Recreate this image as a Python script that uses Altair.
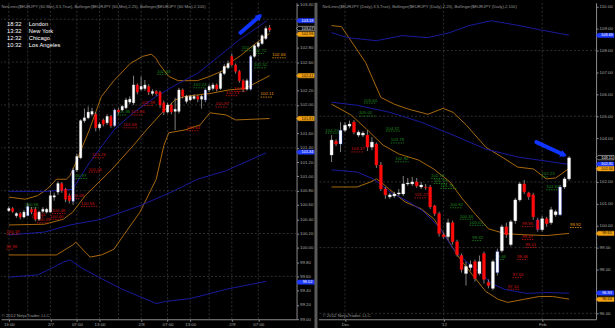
import altair as alt
import pandas as pd

FONT = "Liberation Sans"
ORANGE = "#a8690c"
BLUE = "#1a1a9e"
GREEN = "#1f8a1f"
RED = "#cc1414"
LORANGE = "#e89a10"
GRID = "#3c3c3c"
AXISC = "#8c8c8c"
TXT = "#a8a8a8"
ARROW = "#1034ff"

# ------------------------------------------------------------------ LEFT: EURJPY 60 Min
# bar time = hours counted from 2/7 00:00
L_hour = list(range(-11, 59))
L_open = [100.52, 100.55, 100.45, 100.48, 100.43, 100.45, 100.54, 100.54, 100.40, 100.51,
          100.50, 100.50, 100.71, 100.78, 100.90, 100.82, 100.73, 100.65, 101.09, 101.26,
          101.78, 101.82, 101.87, 101.87, 101.68, 101.79, 101.75, 101.84, 101.71, 101.93,
          101.93, 101.96, 102.04, 102.03, 102.28, 102.22, 102.23, 102.26, 102.16, 102.19,
          102.18, 102.03, 101.90, 102.00, 101.91, 101.91, 102.21, 102.05, 102.07, 102.09,
          102.12, 102.08, 102.07, 102.21, 102.23, 102.28, 102.23, 102.44, 102.52, 102.68,
          102.56, 102.47, 102.34, 102.22, 102.22, 102.68, 102.82, 102.86, 102.93, 103.08]
L_close = [100.55, 100.51, 100.48, 100.43, 100.50, 100.58, 100.50, 100.40, 100.50, 100.54,
           100.54, 100.73, 100.73, 100.90, 100.80, 100.68, 100.66, 101.09, 101.28, 101.78,
           101.82, 101.90, 101.91, 101.68, 101.73, 101.73, 101.84, 101.71, 101.93, 101.90,
           101.98, 102.07, 102.08, 102.28, 102.18, 102.26, 102.28, 102.18, 102.19, 102.16,
           102.00, 101.90, 102.00, 101.90, 101.94, 102.21, 102.12, 102.12, 102.12, 102.12,
           102.08, 102.12, 102.21, 102.26, 102.28, 102.22, 102.44, 102.54, 102.58, 102.56,
           102.47, 102.34, 102.22, 102.34, 102.68, 102.83, 102.87, 102.97, 103.07, 103.05]
L_high = [100.58, 100.57, 100.50, 100.50, 100.53, 100.62, 100.57, 100.57, 100.52, 100.57,
          100.56, 100.80, 100.77, 100.93, 100.92, 100.84, 100.76, 101.12, 101.32, 101.80,
          101.95, 101.98, 101.96, 101.90, 101.76, 101.81, 101.87, 101.86, 101.95, 101.96,
          102.00, 102.10, 102.12, 102.41, 102.30, 102.40, 102.35, 102.29, 102.22, 102.21,
          102.20, 102.06, 102.03, 102.03, 102.10, 102.24, 102.23, 102.14, 102.14, 102.15,
          102.14, 102.14, 102.23, 102.29, 102.31, 102.30, 102.47, 102.57, 102.62, 102.72,
          102.58, 102.49, 102.36, 102.37, 102.70, 102.85, 102.89, 102.99, 103.10, 103.12]
L_low = [100.50, 100.49, 100.42, 100.40, 100.41, 100.44, 100.47, 100.37, 100.38, 100.49,
         100.48, 100.49, 100.66, 100.74, 100.77, 100.64, 100.62, 100.60, 101.06, 101.24,
         101.75, 101.80, 101.84, 101.63, 101.65, 101.70, 101.72, 101.68, 101.69, 101.87,
         101.91, 101.94, 102.01, 102.00, 102.15, 102.20, 102.20, 102.14, 102.13, 102.13,
         101.96, 101.86, 101.88, 101.87, 101.65, 101.88, 102.09, 102.02, 102.05, 102.07,
         102.04, 101.95, 102.04, 102.18, 102.20, 102.19, 102.21, 102.42, 102.50, 102.54,
         102.44, 102.31, 102.18, 102.20, 102.20, 102.66, 102.80, 102.84, 102.91, 103.02]
L_blue = [6, 18, 29, 53, 65]

L_bb25_up_h = [-11, -6.7, -3.4, -0.9, 1.6, 4.2, 5.2, 6.7, 10.3, 13.5, 16.8, 21.1, 24.4, 26.7,
               28.0, 28.7, 31.3, 33.8, 38.9, 42.2, 45.7, 47.2, 50.3, 53.3, 55.3, 58]
L_bb25_up_p = [100.71, 100.68, 100.73, 100.82, 100.96, 100.96, 101.01, 101.19, 101.65, 102.12,
               102.34, 102.58, 102.68, 102.71, 102.65, 102.58, 102.40, 102.34, 102.34, 102.40,
               102.48, 102.58, 102.69, 102.82, 102.90, 103.00]
L_bb25_mid_h = [-11, -1.6, 3.4, 5.9, 9.2, 16.1, 21.9, 25.4, 29.5, 33.0, 35.6, 42.2, 47.2, 51.5, 58]
L_bb25_mid_p = [100.32, 100.33, 100.40, 100.50, 100.73, 101.09, 101.43, 101.65, 101.89, 102.07,
                102.12, 102.16, 102.21, 102.23, 102.41]
L_bb25_lo_h = [-11, 1.6, 5.9, 6.7, 10.5, 13.5, 16.8, 19.4, 23.7, 28.0, 30.0, 31.3, 35.6, 39.6,
               42.2, 46.5, 49.0, 58]
L_bb25_lo_p = [99.90, 99.90, 100.04, 100.08, 99.87, 99.90, 99.98, 100.18, 100.50, 100.96, 101.43,
               101.61, 101.65, 101.72, 101.89, 101.86, 101.79, 101.81]
L_bb100_up_h = [-11, -0.9, 5.9, 10.3, 16.8, 21.9, 28.0, 33.8, 38.9, 42.2, 49.7, 57.3]
L_bb100_up_p = [100.79, 100.79, 100.82, 101.19, 101.65, 101.89, 102.12, 102.30, 102.44, 102.58,
                102.90, 103.18]
L_bb100_mid_h = [-11, -1.6, 5.2, 13.5, 23.7, 32.0, 38.9, 46.5, 57.1]
L_bb100_mid_p = [100.18, 100.22, 100.32, 100.40, 100.59, 100.78, 100.96, 101.08, 101.33]
L_bb100_lo_h = [-11, -3.4, 0.1, 3.4, 5.2, 8.5, 13.5, 18.6, 28.0, 30.5, 37.1, 46.5, 52.3, 57.1]
L_bb100_lo_p = [99.59, 99.62, 99.71, 99.80, 99.83, 99.71, 99.57, 99.43, 99.22, 99.25, 99.29,
                99.42, 99.48, 99.53]

L_lab_h1 = [-6.7, -4.9, -3.6, 0.4, -0.1, 6.0, 5.3, 8.1, 11.1, 10.1, 17.6, 21.4, 19.3, 24.1, 36.1,
            28.2, 37.8, 43.7, 48.6, 46.4, 50.6, 53.6, 53.9, 58.7, 55.6, -11.7, -11.7]
L_lab_h2 = [-3.1, -1.6, -0.3, 4.0, 3.0, 9.6, 7.6, 12.4, 14.4, 13.2, 20.3, 24.4, 23.1, 27.4, 39.4,
            31.2, 41.2, 47.0, 51.6, 49.5, 53.4, 56.4, 57.2, 62.3, 58.9, -8.2, -9.7]
L_lab_v = [100.56, 100.43, 100.35, 100.48, 100.40, 100.97, 100.69, 100.58, 101.26, 101.06,
           101.86, 101.86, 101.68, 101.99, 101.64, 102.43, 102.24, 101.97, 102.19, 102.13,
           102.76, 102.72, 102.52, 102.66, 102.11, 100.19, 99.98]
L_lab_c = ['g', 'r', 'r', 'r', 'r', 'g', 'r', 'r', 'r', 'r', 'g', 'r', 'r', 'r', 'r', 'g', 'g',
           'r', 'r', 'r', 'g', 'g', 'g', 'o', 'o', 'r', 'r']

L_flag_v = [103.18, 103.07, 102.99, 102.41, 101.81, 101.34, 99.52]
L_flag_k = ['blue', 'last', 'orange', 'orange', 'orange', 'blue', 'blue']
L_arrow_h = [50.3, 55.3]
L_arrow_p = [103.01, 103.24]

L_xtick = [-11, 0, 7, 13, 24, 31, 37, 48, 55]
L_xlab = ['13:00', '2/7', '07:00', '13:00', '2/8', '07:00', '13:00', '2/9', '07:00']
L_xgrid = [-11, -6, 0, 7, 13, 18, 24, 31, 37, 42, 48, 55]
# price ticks whose labels are visible (those under the price flags are hidden in the reference)
L_ytick = [99.0, 99.2, 99.4, 99.6, 99.8, 100.0, 100.2, 100.4, 100.6, 100.8, 101.0, 101.2,
           101.4, 101.6, 102.0, 102.2, 102.6, 102.8, 103.4]
L_ygrid = [99.6, 100.2, 100.8, 101.4, 102.0, 102.6, 103.2]

# ------------------------------------------------------------------ RIGHT: EURJPY Daily
# bar index = trading days from 28 Nov 2011
R_idx = list(range(54))
R_open = [103.23, 103.86, 103.73, 104.36, 104.55, 104.73, 104.14, 104.14, 104.14, 103.59,
          103.73, 102.77, 101.68, 101.32, 101.36, 101.45, 101.45, 101.91, 101.91, 102.00,
          101.77, 101.77, 101.77, 100.91, 100.55, 99.59, 99.50, 100.14, 99.27, 98.64,
          97.82, 98.09, 98.36, 97.82, 98.73, 97.41, 97.14, 97.86, 98.86, 99.95,
          99.14, 100.23, 101.18, 101.91, 101.50, 101.41, 100.27, 99.82, 100.32, 100.14,
          100.50, 100.50, 101.77, 102.14]
R_close = [103.91, 103.73, 104.36, 104.59, 104.64, 104.27, 104.27, 104.23, 103.59, 103.82,
           102.77, 101.68, 101.41, 101.41, 101.45, 101.50, 101.91, 101.95, 102.00, 101.82,
           101.86, 101.75, 100.86, 100.55, 99.64, 99.50, 100.14, 99.27, 98.68, 98.00,
           98.14, 98.23, 97.59, 98.36, 97.55, 97.27, 98.36, 98.82, 99.95, 99.59,
           100.18, 101.18, 101.91, 101.55, 101.32, 100.41, 99.82, 100.32, 100.09, 100.73,
           100.64, 101.77, 102.14, 103.10]
R_high = [104.14, 103.95, 104.73, 104.73, 104.80, 104.82, 104.36, 104.32, 104.36, 104.05,
          103.80, 102.91, 101.77, 101.50, 101.55, 101.68, 102.27, 102.18, 102.23, 102.18,
          102.00, 101.91, 101.86, 100.95, 100.64, 99.68, 100.32, 100.23, 99.36, 98.73,
          98.36, 98.41, 98.45, 98.64, 98.82, 97.55, 98.45, 98.95, 100.05, 100.14,
          100.27, 101.27, 102.00, 102.09, 101.55, 101.50, 100.36, 100.45, 100.41, 100.86,
          100.73, 101.86, 102.23, 103.18]
R_low = [102.91, 103.64, 103.36, 104.27, 104.45, 104.18, 104.05, 104.05, 103.41, 103.45,
         102.64, 101.59, 101.23, 101.23, 101.27, 101.36, 101.36, 101.82, 101.82, 101.73,
         101.68, 101.64, 100.77, 100.45, 99.50, 99.41, 99.36, 99.14, 98.59, 97.86,
         97.27, 97.95, 97.45, 97.73, 97.36, 97.14, 97.05, 97.73, 98.77, 99.45,
         99.05, 100.09, 101.09, 101.45, 101.18, 100.27, 99.73, 99.73, 99.95, 100.05,
         100.41, 100.45, 101.68, 102.05]
R_blue = [3, 38, 47, 52]

R_bb25_up_i = [0, 2.2, 7.6, 11.0, 14.0, 17.2, 21.5, 24.9, 27.1, 30.1, 34.4, 38.7, 41.5, 45.1, 47.9, 50.0, 53]
R_bb25_up_p = [109.14, 109.09, 107.45, 105.86, 105.55, 105.32, 105.09, 105.36, 105.18, 104.59,
               103.59, 103.05, 102.68, 102.59, 102.14, 102.18, 102.62]
R_bb25_mid_i = [0, 4.4, 7.8, 11.5, 15.1, 19.4, 22.8, 26.4, 29.2, 32.2, 35.0, 38.7, 42.9, 47.9, 53]
R_bb25_mid_p = [105.55, 105.05, 104.41, 103.68, 103.27, 103.00, 102.59, 102.00, 101.23, 100.50,
                99.86, 99.64, 99.59, 99.55, 99.65]
R_bb25_lo_i = [0, 5.7, 8.7, 10.0, 11.0, 13.0, 16.4, 20.0, 22.8, 25.8, 28.6, 31.4, 34.4, 37.2,
               39.3, 42.9, 46.4, 49.3, 53]
R_bb25_lo_p = [101.77, 101.77, 102.00, 102.14, 102.00, 101.64, 101.09, 100.77, 100.32, 99.41,
               98.50, 97.77, 97.00, 96.64, 96.50, 96.64, 96.77, 96.77, 96.65]
R_bb100_up_i = [0, 3.5, 10.0, 15.7, 21.5, 26.4, 30.7, 35.6, 40.8, 46.4, 53]
R_bb100_up_p = [108.82, 108.59, 108.45, 108.68, 108.59, 108.82, 109.14, 109.36, 109.18, 108.95, 108.70]
R_bb100_mid_i = [0, 5.7, 13.0, 20.0, 27.1, 34.4, 41.5, 47.9, 53]
R_bb100_mid_p = [105.64, 105.50, 105.18, 104.73, 104.14, 103.50, 103.14, 102.95, 102.80]
R_bb100_lo_i = [0, 5.7, 9.3, 13.0, 17.2, 20.6, 24.3, 27.1, 30.1, 32.9, 35.7, 38.7, 43.6, 47.9, 53]
R_bb100_lo_p = [102.55, 102.45, 102.14, 101.55, 101.09, 100.64, 99.86, 98.95, 98.36, 97.91,
                97.36, 97.09, 96.91, 96.95, 96.92]

R_lab_i1 = [7.2, 6.1, 12.1, 13.2, -1.4, 4.4, 14.2, 22.2, 22.8, 24.3, 18.5, 26.4, 28.6, 30.8, 31.4,
            36.5, 41.4, 42.5, 42.5, 43.2, 40.4, 39.3, 46.8, 47.9, 53.2]
R_lab_i2 = [10.0, 10.0, 15.3, 16.2, 2.2, 7.2, 17.2, 25.0, 25.8, 27.9, 21.1, 29.0, 31.6, 34.4, 33.5,
            38.7, 43.5, 45.1, 45.1, 45.8, 42.5, 41.9, 48.5, 50.4, 55.8]
R_lab_v = [105.60, 105.01, 104.32, 103.78, 104.23, 103.37, 102.92, 102.16, 101.93, 101.70,
           101.27, 100.82, 100.30, 100.02, 99.32, 98.46, 98.46, 99.96, 99.37, 99.01, 97.64,
           97.10, 102.23, 101.64, 99.92]
R_lab_c = ['g', 'g', 'g', 'g', 'g', 'r', 'g', 'g', 'g', 'g', 'r', 'g', 'g', 'g', 'g', 'g', 'r',
           'r', 'r', 'r', 'r', 'r', 'g', 'g', 'o']

R_flag_v = [108.69, 103.11, 102.81, 102.60, 99.65, 96.93, 96.64]
R_flag_k = ['blue', 'last', 'blue', 'orange', 'orange', 'blue', 'orange']
R_arrow_i = [45.7, 51.8]
R_arrow_p = [103.82, 103.24]

R_xtick = [3, 25, 47]
R_xlab = ['Dec', "'12", 'Feb']
R_xgrid = [3, 25, 47]
R_ytick = [96, 98, 99, 100, 101, 102, 104, 105, 106, 107, 108, 109, 110]
R_ygrid = [96, 99, 102, 105, 108]

CITY_TIMES = ['18:32', '13:32', '12:32', '10:32']
CITIES = ['London', 'New York', 'Chicago', 'Los Angeles']
L_TITLE = "NetLines($EURJPY (60 Min),3,5,True), Bollinger($EURJPY (60 Min),2,25), Bollinger($EURJPY (60 Min),2,100)"
R_TITLE = "NetLines($EURJPY (Daily),3,5,True), Bollinger($EURJPY (Daily),2,25), Bollinger($EURJPY (Daily),2,100)"
COPY = "\u00a9 2012 NinjaTrader, LLC"

W1, W2, H = 297, 279, 318
FLAG_PATH = "M-5,0L-4,-1.1L4,-1.1L4,1.1L-4,1.1Z"


def label_expr(vals, texts):
    e = '""'
    for v, t in zip(reversed(vals), reversed(texts)):
        e = f'datum.value == {v} ? "{t}" : ({e})'
    return e


def kinds(o, c, blue):
    out = []
    for k, (a, b) in enumerate(zip(o, c), start=1):
        base = 'up' if b >= a else 'down'
        out.append(base + ('b' if k in blue else ''))
    return out


def band_df(items):
    rows = []
    for name, xs, ys in items:
        for x, y in zip(xs, ys):
            rows.append({'band': name, 'x': x, 'y': y})
    return pd.DataFrame(rows)


def panel(W, xdom, ydom, xs, o, c, hi, lo, blue, bw, obands, bbands, lab, flags, arrow, angle,
          xtick, xlab, xgrid, ytick, ygrid, yfmt, ext, flush, title, title_x, left=False):
    xaxis = alt.Axis(values=xtick, labelExpr=label_expr(xtick, xlab), grid=False, tickSize=2,
                     tickColor=AXISC, domainColor=AXISC, labelColor=TXT, labelFont=FONT,
                     labelFontSize=4.4, labelPadding=1, labelFlush=flush, title=None,
                     minExtent=10, maxExtent=10, labelOverlap=False)
    yaxis = alt.Axis(orient='right', values=ytick, format=yfmt, grid=False, tickSize=2,
                     tickColor=AXISC, domainColor=AXISC, labelColor=TXT, labelFont=FONT,
                     labelFontSize=4.4, labelPadding=1, title=None, minExtent=ext, maxExtent=ext,
                     labelOverlap=False)

    def X(f):
        return alt.X(f, type='quantitative', scale=alt.Scale(domain=xdom, nice=False, zero=False), axis=xaxis)

    def Y(f):
        return alt.Y(f, type='quantitative', scale=alt.Scale(domain=ydom, nice=False, zero=False), axis=yaxis)

    vgrid = alt.Chart(pd.DataFrame({'x': xgrid})).mark_rule(
        color=GRID, strokeDash=[2, 2], strokeWidth=0.8).encode(x=X('x'))
    hgrid = alt.Chart(pd.DataFrame({'y': ygrid})).mark_rule(
        color=GRID, strokeDash=[2, 2], strokeWidth=0.8).encode(y=Y('y'))

    ob = alt.Chart(band_df(obands)).mark_line(color=ORANGE, strokeWidth=1).encode(
        x=X('x'), y=Y('y'), detail='band:N')
    bb = alt.Chart(band_df(bbands)).mark_line(color=BLUE, strokeWidth=1).encode(
        x=X('x'), y=Y('y'), detail='band:N')

    x1, x2, v, col = lab
    ldf = pd.DataFrame({'x1': x1, 'x2': x2, 'v': v, 'cat': col,
                        't': [f"{a:.2f}" for a in v]})
    lcol = alt.Color('cat:N', scale=alt.Scale(domain=['g', 'r', 'o'], range=[GREEN, RED, LORANGE]), legend=None)
    under = alt.Chart(ldf).mark_rule(strokeDash=[1.5, 1], strokeWidth=0.8).encode(
        x=X('x1'), x2='x2', y=Y('v'), color=lcol)
    ltext = alt.Chart(ldf).mark_text(align='left', baseline='bottom', dy=-0.6, fontSize=4.4,
                                     font=FONT).encode(x=X('x1'), y=Y('v'), text='t:N', color=lcol)

    cdf = pd.DataFrame({'x': xs, 'o': o, 'c': c, 'hi': hi, 'lo': lo, 'kind': kinds(o, c, blue)})
    kd = ['up', 'down', 'upb', 'downb']
    wick = alt.Chart(cdf).mark_rule(color='#a0a0a0', strokeWidth=0.8).encode(
        x=X('x'), y=Y('lo'), y2='hi')
    body = alt.Chart(cdf).mark_bar(width=bw).encode(
        x=X('x'), y=Y('o'), y2='c',
        fill=alt.Fill('kind:N', scale=alt.Scale(domain=kd, range=['#ffffff', '#ff0a0a', '#ffffff', '#ff0a0a']), legend=None),
        stroke=alt.Stroke('kind:N', scale=alt.Scale(domain=kd, range=['#e8e8e8', '#ff0a0a', '#2a4bff', '#2a4bff']), legend=None),
        strokeWidth=alt.StrokeWidth('kind:N', scale=alt.Scale(domain=kd, range=[0.3, 0.3, 1.1, 1.1]), legend=None))

    ax, ay = arrow
    adf = pd.DataFrame({'x': ax, 'y': ay})
    shaft = alt.Chart(adf).mark_line(color=ARROW, strokeWidth=4, strokeCap='round').encode(x=X('x'), y=Y('y'))
    head = alt.Chart(adf.tail(1)).mark_point(shape='triangle-up', size=55, filled=True, opacity=1,
                                             color=ARROW, angle=angle).encode(x=X('x'), y=Y('y'))

    fv, fk = flags
    fdf = pd.DataFrame({'v': fv, 'kind': fk, 't': [f"{a:.2f}" for a in fv]})
    fd = ['blue', 'orange', 'last']
    fbox = alt.Chart(fdf).mark_point(shape=FLAG_PATH, size=16, filled=True, opacity=1, strokeWidth=0.5).encode(
        x=alt.value(W + 10), y=Y('v'),
        fill=alt.Fill('kind:N', scale=alt.Scale(domain=fd, range=['#1f3bff', '#f0a010', '#000000']), legend=None),
        stroke=alt.Stroke('kind:N', scale=alt.Scale(domain=fd, range=['#1f3bff', '#f0a010', '#ffffff']), legend=None))
    ftxt = alt.Chart(fdf).mark_text(fontSize=3.9, font=FONT, align='center', baseline='middle').encode(
        x=alt.value(W + 11), y=Y('v'), text='t:N',
        color=alt.Color('kind:N', scale=alt.Scale(domain=fd, range=['#ffffff', '#201000', '#ffffff']), legend=None))

    one = pd.DataFrame({'a': [0]})
    ttl = alt.Chart(one).mark_text(text=title, align='left', baseline='middle', fontSize=4.2,
                                   font=FONT, color='#9a9a9a').encode(x=alt.value(title_x), y=alt.value(4.5))
    cpy = alt.Chart(one).mark_text(text=COPY, align='left', baseline='middle', fontSize=4.4,
                                   font=FONT, color='#9a9a9a').encode(x=alt.value(title_x), y=alt.value(315))

    layers = [vgrid, hgrid, ob, bb, under, ltext, wick, body, shaft, head, fbox, ftxt, ttl, cpy]
    if left:
        leg_t = alt.Chart(one).mark_text(text="\n".join(CITY_TIMES), lineBreak="\n", lineHeight=7,
                                         align='left', baseline='top', fontSize=5.8, font=FONT,
                                         color='#ffffff').encode(x=alt.value(6), y=alt.value(18))
        leg_c = alt.Chart(one).mark_text(text="\n".join(CITIES), lineBreak="\n", lineHeight=7,
                                         align='left', baseline='top', fontSize=5.8, font=FONT,
                                         color='#ffffff').encode(x=alt.value(28), y=alt.value(18))
        sep = alt.Chart(one).mark_rule(color='#5a5a5a', strokeWidth=3).encode(
            x=alt.value(W + 19.5), y=alt.value(0), y2=alt.value(H + 10))
        layers += [leg_t, leg_c, sep]

    return alt.layer(*layers).properties(width=W, height=H).resolve_scale(
        color='independent', fill='independent', stroke='independent', strokeWidth='independent')


left = panel(W1, [-11.76, 63.81], [99.0, 103.43], L_hour, L_open, L_close, L_high, L_low, L_blue, 2.4,
             [('u', L_bb25_up_h, L_bb25_up_p), ('m', L_bb25_mid_h, L_bb25_mid_p), ('l', L_bb25_lo_h, L_bb25_lo_p)],
             [('u', L_bb100_up_h, L_bb100_up_p), ('m', L_bb100_mid_h, L_bb100_mid_p), ('l', L_bb100_lo_h, L_bb100_lo_p)],
             (L_lab_h1, L_lab_h2, L_lab_v, L_lab_c), (L_flag_v, L_flag_k), (L_arrow_h, L_arrow_p), 49,
             L_xtick, L_xlab, L_xgrid, L_ytick, L_ygrid, '.2f', 21, 4, L_TITLE, 0.5, left=True)

right = panel(W2, [-1.82, 57.92], [95.73, 110.18], R_idx, R_open, R_close, R_high, R_low, R_blue, 3.0,
              [('u', R_bb25_up_i, R_bb25_up_p), ('m', R_bb25_mid_i, R_bb25_mid_p), ('l', R_bb25_lo_i, R_bb25_lo_p)],
              [('u', R_bb100_up_i, R_bb100_up_p), ('m', R_bb100_mid_i, R_bb100_mid_p), ('l', R_bb100_lo_i, R_bb100_lo_p)],
              (R_lab_i1, R_lab_i2, R_lab_v, R_lab_c), (R_flag_v, R_flag_k), (R_arrow_i, R_arrow_p), 114,
              R_xtick, R_xlab, R_xgrid, R_ytick, R_ygrid, '.2f', 18, False, R_TITLE, 4)

chart = alt.hconcat(left, right, spacing=0).properties(
    background='#000000', padding=0).configure_view(stroke=None)

chart.save("out.html", embed_options={"renderer": "svg", "actions": False})
